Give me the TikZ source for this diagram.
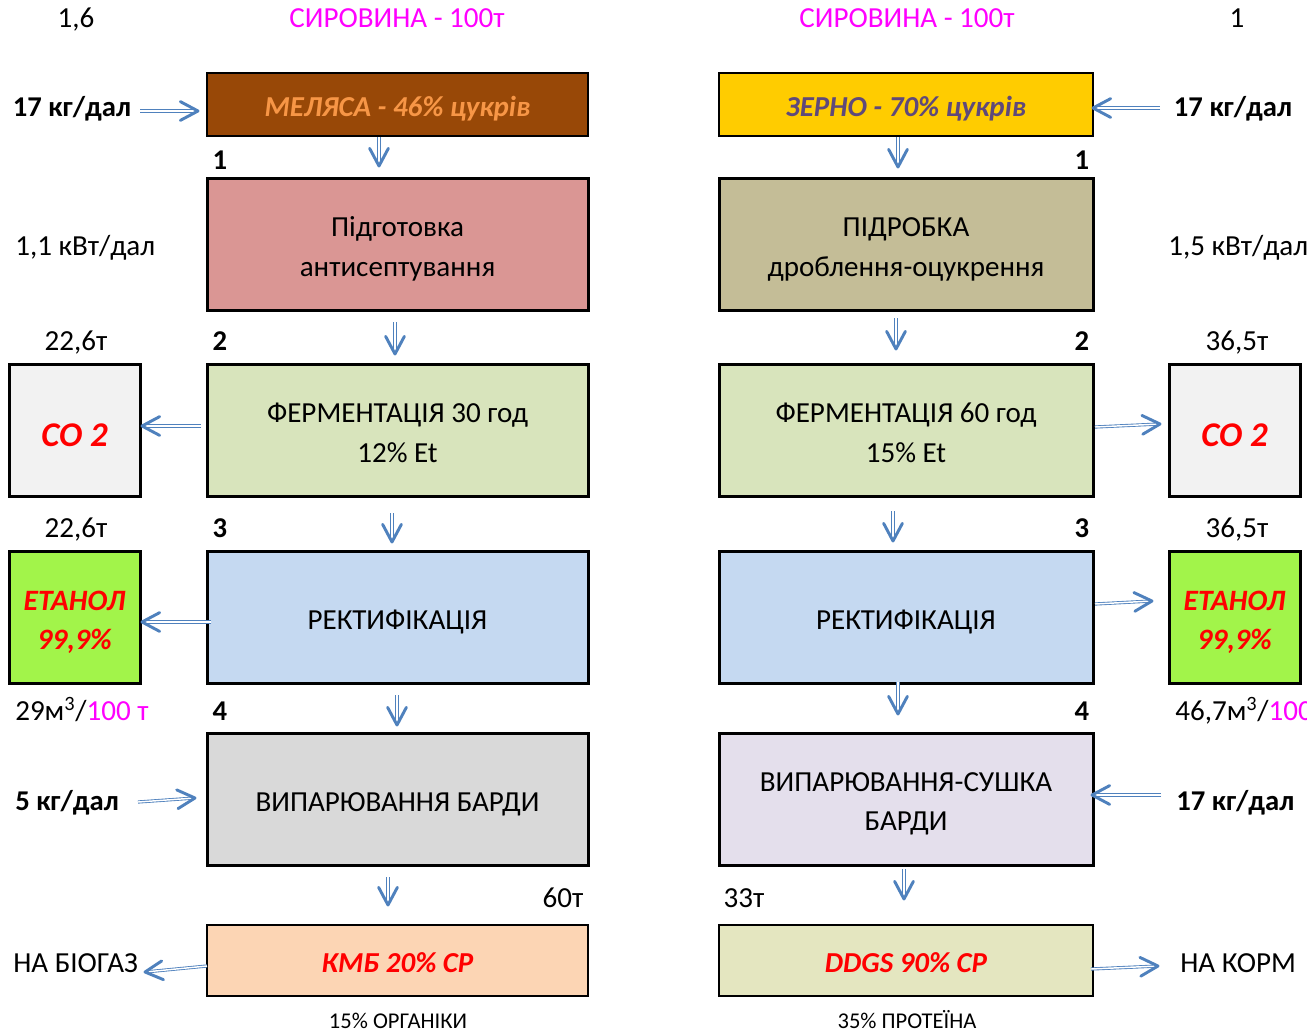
\documentclass[tikz,border=0pt]{standalone}
\usepackage{fontspec}
\setmainfont{Carlito}
\usetikzlibrary{calc}
\definecolor{ablue}{HTML}{4F81BD}
\definecolor{mag}{HTML}{FF00FF}
\definecolor{cbrown}{HTML}{984807}
\definecolor{corange}{HTML}{F79646}
\definecolor{cyellow}{HTML}{FFCC00}
\definecolor{cpurple}{HTML}{5F497A}
\definecolor{cpink}{HTML}{DA9694}
\definecolor{ckhaki}{HTML}{C4BD97}
\definecolor{cgreen}{HTML}{D8E4BC}
\definecolor{cblue}{HTML}{C5D9F1}
\definecolor{cgray}{HTML}{D9D9D9}
\definecolor{clav}{HTML}{E4DFEC}
\definecolor{cpeach}{HTML}{FCD5B4}
\definecolor{cddgs}{HTML}{E4E6C0}
\definecolor{clight}{HTML}{F2F2F2}
\definecolor{clime}{HTML}{A2F44A}
\newcommand\bs{\rule[-5pt]{0pt}{28pt}}
\newcommand\es{\rule[-5pt]{0pt}{5pt}}
\newcommand\bsco{\rule[-5pt]{0pt}{33.6pt}}
\newcommand\bset{\rule[-5pt]{0pt}{29.5pt}}
\newcommand\flowar[2]{%
  \draw[shaft] (#1) -- ($(#2)!1pt!(#1)$);
  \draw[tipline] ($(#2)!15pt!28:(#1)$) -- (#2) -- ($(#2)!15pt!-28:(#1)$);}
\begin{document}
\begin{tikzpicture}[x=0.75pt,y=-0.75pt,
  box/.style={draw=black, line width=2.25pt, align=center, inner sep=0pt,
    font=\fontsize{21.8}{29.5}\selectfont},
  thinbox/.style={box, line width=1.5pt},
  lwide/.style={minimum width=285.75pt},
  rwide/.style={minimum width=280.5pt},
  sq/.style={minimum width=98.25pt, minimum height=99pt},
  hmain/.style={minimum height=99pt},
  hsmall/.style={minimum height=47.25pt},
  hbot/.style={minimum height=53.25pt},
  lbl/.style={inner sep=0pt, text height=14pt, text depth=0pt, font=\fontsize{21.8}{26}\selectfont},
  blbl/.style={inner sep=0pt, text height=13.85pt, text depth=0pt, font=\fontsize{21.5}{26}\selectfont\bfseries},
  slbl/.style={inner sep=0pt, text height=10.9pt, text depth=0pt, font=\fontsize{16.9}{20}\selectfont},
  bi/.style={font=\fontsize{21.7}{29.5}\selectfont\bfseries\itshape},
  coft/.style={font=\fontsize{26}{30}\selectfont\bfseries\itshape},
  etft/.style={font=\fontsize{22.2}{29.25}\selectfont\bfseries\itshape},
  shaft/.style={draw=ablue, line width=0.65pt, double=white, double distance=1.1pt},
  tipline/.style={draw=ablue, line width=2.2pt, line cap=round, line join=round}]
\useasboundingbox (0,0) rectangle (1307,1032);

% boxes left
\node[thinbox, lwide, hsmall, fill=cbrown, bi, text=corange] (m1) at (397.5,104.5) {\bs МЕЛЯСА - 46\% цукрів\es};
\node[box, lwide, hmain, fill=cpink] (m2) at (397.5,244.5) {\bs Підготовка\\антисептування\es};
\node[box, lwide, hmain, fill=cgreen] (m3) at (397.5,430.5) {\bs ФЕРМЕНТАЦІЯ 30 год\\12\% Et\es};
\node[box, lwide, hmain, fill=cblue] (m4) at (397.5,617) {\bs РЕКТИФІКАЦІЯ\es};
\node[box, lwide, hmain, fill=cgray] (m5) at (397.5,799) {\bs ВИПАРЮВАННЯ БАРДИ\es};
\node[thinbox, lwide, hbot, fill=cpeach, bi, text=red] (m6) at (397.5,960.5) {\bs КМБ 20\% СР\es};
\node[box, sq, fill=clight, text=red, coft] (co2L) at (74.5,430.5) {\bsco CO 2\es};
\node[box, sq, fill=clime, text=red, etft] (etL) at (74.5,617) {\bset ЕТАНОЛ\\99,9\%\es};

% boxes right
\node[thinbox, rwide, hsmall, fill=cyellow, bi, text=cpurple] (g1) at (906,104.5) {\bs ЗЕРНО - 70\% цукрів\es};
\node[box, rwide, hmain, fill=ckhaki] (g2) at (906,244.5) {\bs ПІДРОБКА\\дроблення-оцукрення\es};
\node[box, rwide, hmain, fill=cgreen] (g3) at (906,430.5) {\bs ФЕРМЕНТАЦІЯ 60 год\\15\% Et\es};
\node[box, rwide, hmain, fill=cblue] (g4) at (906,617) {\bs РЕКТИФІКАЦІЯ\es};
\node[box, rwide, hmain, fill=clav] (g5) at (906,799) {\bs ВИПАРЮВАННЯ-СУШКА\\БАРДИ\es};
\node[thinbox, rwide, hbot, fill=cddgs, bi, text=red] (g6) at (906,960.5) {\bs DDGS 90\% CP\es};
\node[box, sq, fill=clight, text=red, coft] (co2R) at (1234.5,430.5) {\bsco CO 2\es};
\node[box, sq, fill=clime, text=red, etft] (etR) at (1234.5,617) {\bset ЕТАНОЛ\\99,9\%\es};

% labels
\node[lbl] (t16) at (76,18) {1,6};
\node[lbl, text=mag] (tsl) at (397,18) {СИРОВИНА - 100т};
\node[lbl, text=mag] (tsr) at (907,18) {СИРОВИНА - 100т};
\node[lbl] (t1r) at (1237,18) {1};
\node[blbl] (k17l) at (72,107) {17 кг/дал};
\node[blbl] (k17r) at (1233,107) {17 кг/дал};
\node[blbl] (n1l) at (220,160) {1};
\node[blbl] (n1r) at (1082,160) {1};
\node[lbl, anchor=west] (kwl) at (15,246) {1,1 кВт/дал};
\node[lbl, anchor=west] (kwr) at (1168,246) {1,5 кВт/дал};
\node[lbl] (w1l) at (76,341) {22,6т};
\node[blbl] (n2l) at (220,341) {2};
\node[blbl] (n2r) at (1082,341) {2};
\node[lbl] (w1r) at (1237,341) {36,5т};
\node[lbl] (w2l) at (76,528) {22,6т};
\node[blbl] (n3l) at (220,528) {3};
\node[blbl] (n3r) at (1082,528) {3};
\node[lbl] (w2r) at (1237,528) {36,5т};
\node[lbl, anchor=west] (vl) at (15,711) {29м\textsuperscript{3}/\textcolor{mag}{100 т}};
\node[blbl] (n4l) at (220,711) {4};
\node[blbl] (n4r) at (1082,711) {4};
\node[lbl, anchor=west] (vr) at (1175,711) {46,7м\textsuperscript{3}/\textcolor{mag}{100 т}};
\node[blbl, anchor=west] (k5l) at (15,801) {5 кг/дал};
\node[blbl, anchor=west] (k17b) at (1176,801) {17 кг/дал};
\node[lbl] (t60) at (563,898) {60т};
\node[lbl] (t33) at (744,898) {33т};
\node[lbl, anchor=west] (bio) at (13,963) {НА БІОГАЗ};
\node[lbl, anchor=west] (korm) at (1180,963) {НА КОРМ};
\node[slbl] (org) at (398,1021) {15\% ОРГАНІКИ};
\node[slbl] (prot) at (907,1021) {35\% ПРОТЕЇНА};

% arrow end points
\coordinate (a1) at (140,111); \coordinate (b1) at (198,111);
\coordinate (a2) at (1160,108); \coordinate (b2) at (1093,108);
\coordinate (a3) at (379,137); \coordinate (b3) at (379,166);
\coordinate (a4) at (395,322); \coordinate (b4) at (395,354);
\coordinate (a5) at (392,513); \coordinate (b5) at (392,542);
\coordinate (a6) at (397,695); \coordinate (b6) at (397,725);
\coordinate (a7) at (388,877); \coordinate (b7) at (388,905);
\coordinate (a8) at (898,137); \coordinate (b8) at (898,167);
\coordinate (a9) at (896,318); \coordinate (b9) at (896,349);
\coordinate (a10) at (893,511); \coordinate (b10) at (893,541);
\coordinate (a11) at (898,682); \coordinate (b11) at (898,714);
\coordinate (a12) at (904,869); \coordinate (b12) at (904,899);
\coordinate (a13) at (201,426); \coordinate (b13) at (142,426);
\coordinate (a14) at (211,622); \coordinate (b14) at (142,622);
\coordinate (a15) at (1095,427); \coordinate (b15) at (1160,424);
\coordinate (a16) at (1095,604); \coordinate (b16) at (1152,601);
\coordinate (a17) at (138,802); \coordinate (b17) at (195,798);
\coordinate (a18) at (1161,795); \coordinate (b18) at (1092,795);
\coordinate (a19) at (207,966); \coordinate (b19) at (145,972);
\coordinate (a20) at (1091,969); \coordinate (b20) at (1158,966);

\foreach \i in {1,...,20} {\flowar{a\i}{b\i}}
\end{tikzpicture}
\end{document}
